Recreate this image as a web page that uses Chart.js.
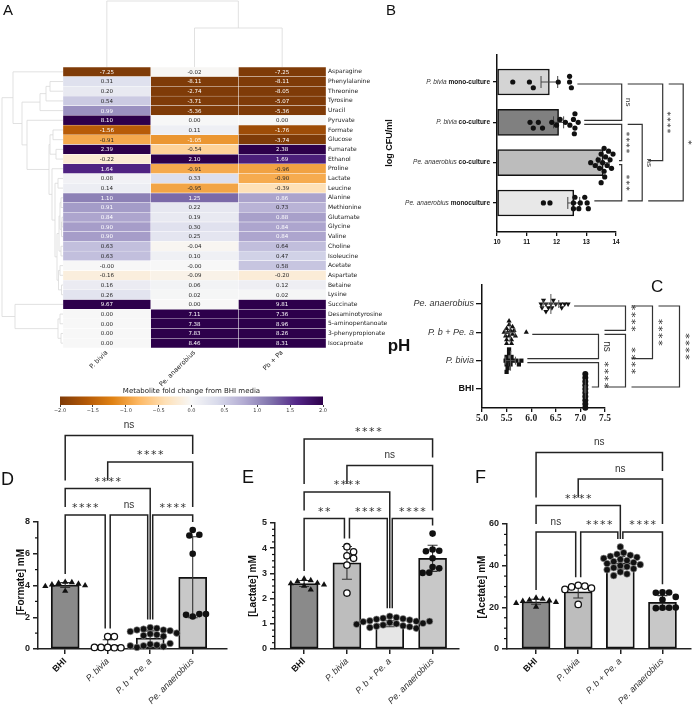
<!DOCTYPE html>
<html>
<head>
<meta charset="utf-8">
<script src="https://cdn.jsdelivr.net/npm/chart.js@4.4.1/dist/chart.umd.min.js"></script>
<style>
  body { margin: 0; background: #fff; }
  #fig { position: relative; width: 696px; height: 709px; overflow: hidden; }
  canvas { position: absolute; background: transparent; }
  .tag { position: absolute; font-family: 'Liberation Sans', Arial, sans-serif; line-height: 1; color: #111; }
</style>
</head>
<body>
<div id="fig">
  <canvas id="formate" width="232" height="304" style="left:0;top:405px"></canvas>
  <canvas id="lactate" width="232" height="304" style="left:232px;top:405px"></canvas>
  <canvas id="acetate" width="232" height="304" style="left:464px;top:405px"></canvas>
  <canvas id="cbar" width="290" height="32" style="left:50px;top:385px"></canvas>
  <canvas id="cfu" width="351" height="250" style="left:345px;top:0"></canvas>
  <canvas id="ph" width="351" height="160" style="left:345px;top:265px"></canvas>
  <canvas id="heat" width="400" height="400" style="left:0;top:0"></canvas>
  <div class="tag" style="left:3px;top:2px;font-size:15px">A</div>
  <div class="tag" style="left:386px;top:2px;font-size:15px">B</div>
  <div class="tag" style="left:651px;top:278px;font-size:17px">C</div>
  <div class="tag" style="left:1px;top:470px;font-size:18px">D</div>
  <div class="tag" style="left:242px;top:468px;font-size:18px">E</div>
  <div class="tag" style="left:475px;top:468px;font-size:18px">F</div>
</div>
<script>
// ---------- A: metabolite fold change heatmap ----------
const metabolites = ['Asparagine', 'Phenylalanine', 'Threonine', 'Tyrosine', 'Uracil', 'Pyruvate', 'Formate', 'Glucose',
  'Fumarate', 'Ethanol', 'Proline', 'Lactate', 'Leucine', 'Alanine', 'Methionine', 'Glutamate', 'Glycine', 'Valine',
  'Choline', 'Isoleucine', 'Acetate', 'Aspartate', 'Betaine', 'Lysine', 'Succinate', 'Desaminotyrosine',
  '5-aminopentanoate', '3-phenypropionate', 'Isocaproate'];
const strains = ['P. bivia', 'Pe. anaerobius', 'Pb + Pa'];
const foldBivia = [-7.25, 0.31, 0.20, 0.54, 0.99, 8.10, -1.56, -0.91, 2.39, -0.22, 1.64, 0.08, 0.14, 1.10, 0.91, 0.84,
  0.90, 0.90, 0.63, 0.63, -0.001, -0.16, 0.16, 0.26, 9.67, 0.00, 0.00, 0.00, 0.00];
const foldAnaerobius = [-0.02, -8.11, -2.74, -3.71, -5.36, 0.00, 0.11, -1.05, -0.54, 2.10, -0.91, 0.33, -0.95, 1.25, 0.22,
  0.19, 0.30, 0.25, -0.04, 0.10, -0.001, -0.09, 0.06, 0.02, 0.00, 7.11, 7.38, 7.83, 8.46];
const foldMix = [-7.25, -8.11, -8.05, -5.07, -5.36, 0.00, -1.76, -3.74, 2.38, 1.69, -0.96, -0.90, -0.39, 0.86, 0.73, 0.88,
  0.84, 0.84, 0.64, 0.47, 0.58, -0.20, 0.12, 0.02, 9.81, 7.36, 8.96, 8.26, 8.31];
const foldChange = [foldBivia, foldAnaerobius, foldMix];
// hierarchical clustering: [node a, node b, merge height]; leaves are 0..n-1, merges get n, n+1, ...
const rowLinkage = [[1, 2, 13], [29, 3, 17], [30, 4, 23], [6, 7, 10], [8, 9, 7], [32, 33, 13], [11, 12, 5], [13, 14, 2],
  [15, 16, 1], [37, 17, 1.5], [36, 38, 3], [18, 19, 2], [39, 40, 4], [20, 21, 3], [22, 23, 1.5], [42, 43, 4.5],
  [41, 44, 6], [35, 45, 8], [10, 46, 11], [34, 47, 14], [5, 48, 36], [31, 49, 41], [0, 50, 50], [25, 26, 3],
  [27, 28, 2], [52, 53, 5], [24, 54, 48], [51, 55, 61]];
const colLinkage = [[1, 2, 39], [0, 3, 66]];
const cbarRange = [-2, 2];

// ---------- B: log CFU/ml ----------
const cfuSpecies = ['P. bivia', 'P. bivia', 'Pe. anaerobius', 'Pe. anaerobius'];
const cfuCondition = [' mono-culture', ' co-culture', ' co-culture', ' monoculture'];
const cfuMean = [11.76, 12.07, 13.57, 12.58];
const cfuSd = [0.28, 0.17, 0.2, 0.2];
const cfuBiviaMono = [10.53, 11.09, 11.22, 12.06, 12.44, 12.5, 12.44];
const cfuBiviaCo = [11.11, 11.22, 11.39, 11.53, 11.84, 12.0, 12.12, 12.3, 12.45, 12.57, 12.62, 12.62, 12.73, 12.6];
const cfuAnaCo = [13.15, 13.3, 13.4, 13.45, 13.5, 13.55, 13.6, 13.62, 13.65, 13.7, 13.75, 13.8, 13.85, 13.9, 13.6, 13.5];
const cfuAnaMono = [11.56, 11.78, 12.57, 13.03, 12.57, 12.8, 13.07, 12.62, 12.75, 12.95];
const cfuStats = [[0, 1, 'ns', 0], [1, 2, '****', 0], [2, 3, '***', 0], [1, 3, 'ns', 1], [0, 2, '****', 2], [0, 3, '*', 3]];

// ---------- C: pH ----------
const phGroups = ['Pe. anaerobius', 'P. b + Pe. a', 'P. bivia', 'BHI'];
const phMean = [6.4, 5.57, 5.58, 7.1];
const phSd = [0.16, 0.1, 0.1, 0.01];
const phAnaerobius = [6.2, 6.22, 6.25, 6.3, 6.35, 6.4, 6.42, 6.45, 6.5, 6.6, 6.62, 6.68, 6.75, 6.3];
const phMix = [5.45, 5.48, 5.5, 5.5, 5.52, 5.55, 5.55, 5.58, 5.6, 5.62, 5.62, 5.65, 5.68, 5.5, 5.55, 5.6, 5.9];
const phBivia = [5.48, 5.5, 5.5, 5.52, 5.55, 5.55, 5.58, 5.6, 5.62, 5.7, 5.75, 5.8, 5.5, 5.55];
const phBHI = [7.1, 7.1, 7.1, 7.1, 7.1, 7.1, 7.1, 7.1, 7.1, 7.1];
const phStats = [[1, 2, 'ns', 0], [2, 3, '****', 0], [0, 1, '****', 1], [1, 3, '****', 1], [0, 2, '****', 2], [0, 3, '****', 3]];

// ---------- D, E, F: metabolite concentrations ----------
const concGroups = ['BHI', 'P. bivia', 'P. b + Pe. a', 'Pe. anaerobius'];
const formateMean = [4.03, 0.25, 0.69, 4.52];
const formateSd = [0.15, 0.33, 0.45, 2.55];
const formateBHI = [4.22, 4.2, 4.15, 4.1, 4.05, 4.0, 3.95, 3.65];
const formateBivia = [0.78, 0.78, 0.1, 0.08, 0.1, 0.08, 0.1];
const formateMix = [1.35, 1.3, 1.25, 1.2, 1.2, 1.15, 1.1, 1.0, 0.95, 0.9, 0.85, 0.8, 0.3, 0.25, 0.2, 0.15, 0.1, 0.35, 0.2];
const formatePeA = [7.5, 7.2, 7.15, 6.0, 2.05, 2.2, 2.15, 2.2];
const formateStats = [[0, 1, '****', 0], [1, 2, 'ns', 0], [2, 3, '****', 0], [0, 2, '****', 1], [1, 3, '****', 2], [0, 3, 'ns', 3]];

const lactateMean = [2.6, 3.42, 1.0, 3.6];
const lactateSd = [0.12, 0.65, 0.12, 0.52];
const lactateBHI = [2.78, 2.72, 2.68, 2.62, 2.6, 2.55, 2.5, 2.35];
const lactateBivia = [4.06, 3.86, 3.7, 3.6, 3.33, 2.22];
const lactateMix = [1.3, 1.25, 1.22, 1.2, 1.18, 1.15, 1.12, 1.1, 1.08, 1.05, 1.02, 1.0, 0.98, 0.95, 0.92, 0.9, 0.88, 0.85, 0.82, 1.1];
const lactatePeA = [4.58, 3.95, 3.9, 3.88, 3.6, 3.25, 3.2, 3.03, 3.02];
const lactateStats = [[0, 1, '**', 0], [1, 2, '****', 0], [2, 3, '****', 0], [0, 2, '****', 1], [1, 3, 'ns', 2], [0, 3, '****', 3]];

const acetateMean = [22.7, 27.5, 41.4, 22.4];
const acetateSd = [1.2, 3.0, 3.0, 3.2];
const acetateBHI = [24.5, 24, 23.5, 23.2, 23, 22.5, 22, 20.2];
const acetateBivia = [30.6, 30.2, 29.8, 29.2, 28.6, 21.4];
const acetateMix = [49, 46.2, 45.5, 45, 44.5, 44, 43.5, 43, 42.5, 42, 41.5, 41, 40.5, 40, 39.5, 39, 38.5, 38, 37, 36, 35.2];
const acetatePeA = [27.2, 27.1, 27, 25, 23.6, 19.8, 19.8, 19.6, 19.9];
const acetateStats = [[0, 1, 'ns', 0], [1, 2, '****', 0], [2, 3, '****', 0], [0, 2, '****', 1], [1, 3, 'ns', 2], [0, 3, 'ns', 3]];

Chart.defaults.font.family = "'Liberation Sans', Arial, sans-serif";
Chart.defaults.animation = false;
Chart.defaults.plugins.legend.display = false;
Chart.defaults.plugins.tooltip.enabled = false;

// PuOr colour map between -2 and 2
const puorStops = [[127, 59, 8], [179, 88, 6], [224, 130, 20], [253, 184, 99], [254, 224, 182], [247, 247, 247],
  [216, 218, 235], [178, 171, 210], [128, 115, 172], [84, 39, 136], [45, 0, 75]];
function puorRGB(v) {
  const t = (Math.min(Math.max(v, cbarRange[0]), cbarRange[1]) - cbarRange[0]) / (cbarRange[1] - cbarRange[0]) * 10;
  const i = Math.min(Math.floor(t), 9), f = t - i;
  return puorStops[i].map((c, k) => Math.round(c + (puorStops[i + 1][k] - c) * f));
}
const puor = v => `rgb(${puorRGB(v).join(',')})`;
// dark or white annotation depending on the cell luminance
function annotColor(v) {
  const [r, g, b] = puorRGB(v).map(c => {
    c /= 255;
    return c <= 0.03928 ? c / 12.92 : Math.pow((c + 0.055) / 1.055, 2.4);
  });
  return 0.2126 * r + 0.7152 * g + 0.0722 * b > 0.408 ? '#262626' : '#ffffff';
}

function drawTree(ctx, links, leafPos, toPoint) {
  const pos = leafPos.slice(), h = leafPos.map(() => 0);
  links.forEach(([a, b, d]) => {
    const pts = [toPoint(pos[a], h[a]), toPoint(pos[a], d), toPoint(pos[b], d), toPoint(pos[b], h[b])];
    ctx.beginPath();
    pts.forEach((p, i) => i ? ctx.lineTo(p[0], p[1]) : ctx.moveTo(p[0], p[1]));
    ctx.stroke();
    pos.push((pos[a] + pos[b]) / 2);
    h.push(d);
  });
}

const dendrograms = {
  id: 'dendrograms',
  beforeDatasetsDraw(chart) {
    const { ctx, chartArea: a, scales: { x, y } } = chart;
    ctx.save();
    ctx.strokeStyle = '#d9d9d9';
    ctx.lineWidth = 0.8;
    drawTree(ctx, rowLinkage, metabolites.map((m, i) => y.getPixelForValue(i)), (p, d) => [a.left - d, p]);
    drawTree(ctx, colLinkage, strains.map((s, i) => x.getPixelForValue(i + 0.5)), (p, d) => [p, a.top - d]);
    ctx.restore();
  }
};

const cellText = {
  id: 'cellText',
  afterDatasetsDraw(chart) {
    const ctx = chart.ctx;
    ctx.save();
    ctx.font = '5.5px "DejaVu Sans"';
    ctx.textAlign = 'center';
    ctx.textBaseline = 'middle';
    chart.data.datasets.forEach((ds, d) => {
      chart.getDatasetMeta(d).data.forEach((el, i) => {
        const v = foldChange[d][i];
        ctx.fillStyle = annotColor(v);
        ctx.fillText(v.toFixed(2), (el.x + el.base) / 2, el.y + 0.5);
      });
    });
    ctx.restore();
  }
};

new Chart(document.getElementById('heat'), {
  type: 'bar',
  data: {
    labels: metabolites,
    datasets: strains.map((s, c) => ({
      label: s,
      data: foldChange[c].map(() => [c, c + 1]),
      backgroundColor: ctx => puor(foldChange[c][ctx.dataIndex]),
      borderColor: 'rgba(255,255,255,0.6)',
      borderWidth: 0.5,
      borderSkipped: false,
      grouped: false,
      barPercentage: 1,
      categoryPercentage: 1
    }))
  },
  options: {
    indexAxis: 'y',
    responsive: false,
    layout: { padding: { left: 63, top: 67, right: 0, bottom: 2 } },
    scales: {
      x: {
        type: 'linear', min: 0, max: strains.length, offset: false,
        afterBuildTicks: s => { s.ticks = strains.map((n, i) => ({ value: i + 0.5 })); },
        ticks: { callback: (v, i) => strains[i], font: { family: 'DejaVu Sans', size: 6.5 }, color: '#222',
          minRotation: 45, maxRotation: 45, padding: 1, autoSkip: false },
        grid: { display: false, drawTicks: false }, border: { display: false },
        // keep the box tall enough: rotated labels are clipped to the axis box
        afterFit: s => { s.height = 50; }
      },
      y: {
        position: 'right',
        ticks: { font: { family: 'DejaVu Sans', size: 6 }, color: '#222', padding: 2, autoSkip: false },
        grid: { display: false, drawTicks: false }, border: { display: false },
        afterFit: s => { s.width = 74; }
      }
    }
  },
  plugins: [dendrograms, cellText]
});

// colour bar
new Chart(document.getElementById('cbar'), {
  type: 'bar',
  data: {
    labels: [''],
    datasets: [{
      data: [cbarRange],
      backgroundColor: ctx => {
        const a = ctx.chart.chartArea;
        if (!a) return '#ccc';
        const g = ctx.chart.ctx.createLinearGradient(a.left, 0, a.right, 0);
        puorStops.forEach((c, i) => g.addColorStop(i / 10, `rgb(${c.join(',')})`));
        return g;
      },
      borderWidth: 0, barPercentage: 1, categoryPercentage: 1
    }]
  },
  options: {
    indexAxis: 'y',
    responsive: false,
    layout: { padding: { left: 10, right: 17, top: 0, bottom: 0 } },
    plugins: {
      title: { display: true, text: 'Metabolite fold change from BHI media', color: '#222',
        font: { family: 'DejaVu Sans', size: 7, weight: 'normal' }, padding: { top: 2, bottom: 1 } }
    },
    scales: {
      x: {
        type: 'linear', min: cbarRange[0], max: cbarRange[1], offset: false,
        ticks: { stepSize: 0.5, font: { family: 'DejaVu Sans', size: 5 }, color: '#333', padding: 1,
          callback: v => v.toFixed(1).replace('-', '\u2212') },
        grid: { drawOnChartArea: false, tickLength: 2, color: '#444' }, border: { display: false },
        afterFit: s => { s.height = 12; }
      },
      y: { display: false }
    }
  }
});

// ---------- shared helpers ----------
// spread points that would overlap along the category axis
function swarm(values, index, valPx, catPx, dot) {
  const placed = [];
  return values.map(v => {
    let off = 0;
    for (let k = 0; k < 80; k++) {
      off = (k % 2 ? 1 : -1) * Math.ceil(k / 2) * dot * 0.55;
      if (!placed.some(p => Math.hypot((p.v - v) * valPx, p.off - off) < dot)) break;
    }
    placed.push({ v, off });
    return { v, c: index + off / catPx };
  });
}

function sigFont(txt, size) {
  return txt.includes('*') ? { font: `${size + 1}px "DejaVu Sans"`, spacing: size / 6.5, lift: 0.56 * (size + 1) }
    : { font: `${size}px "Liberation Sans"`, spacing: 0, lift: 0.27 * size };
}

// comparison brackets to the right of horizontal charts
function sideBrackets(stats, groups, means, sds, lay) {
  return {
    id: 'sideBrackets',
    afterDraw(chart) {
      const { ctx, chartArea: a, scales: { x, y } } = chart;
      const ends = groups.map((g, i) => x.getPixelForValue(Math.max(...g, means[i] + sds[i])));
      const items = stats.map(([p, q, txt, tier]) => ({ p, q, txt, tier, bx: a.right + lay.x0 + lay.step * tier }));
      const armStart = (it, g) => {
        let s = ends[g] + lay.gap;
        items.forEach(o => { if (o.tier < it.tier && g >= o.p && g <= o.q) s = Math.max(s, o.bx + lay.gap); });
        return s;
      };
      ctx.save();
      ctx.strokeStyle = '#333';
      ctx.lineWidth = 1.2;
      items.forEach(it => {
        const y1 = y.getPixelForValue(it.p) + 2, y2 = y.getPixelForValue(it.q) - 2;
        ctx.beginPath();
        ctx.moveTo(armStart(it, it.p), y1);
        ctx.lineTo(it.bx, y1);
        ctx.lineTo(it.bx, y2);
        ctx.lineTo(armStart(it, it.q), y2);
        ctx.stroke();
        const f = sigFont(it.txt, lay.size);
        ctx.save();
        ctx.translate(it.bx + lay.labelOff, (y1 + y2) / 2);
        ctx.rotate(Math.PI / 2);
        ctx.font = f.font;
        ctx.letterSpacing = f.spacing + 'px';
        ctx.fillStyle = '#333';
        ctx.textAlign = 'center';
        ctx.fillText(it.txt, f.spacing / 2, f.lift);
        ctx.restore();
      });
      ctx.restore();
    }
  };
}

// comparison brackets above vertical bar charts
function topBrackets(stats, groups, means, sds) {
  return {
    id: 'topBrackets',
    afterDraw(chart) {
      const { ctx, scales: { x, y } } = chart;
      const tops = groups.map((g, i) => y.getPixelForValue(Math.max(...g, means[i] + sds[i])));
      const base = Math.min(...tops) - 15;
      const items = stats.map(([p, q, txt, lvl]) => {
        const same = stats.filter(s => s[3] === lvl);
        let x1 = x.getPixelForValue(p), x2 = x.getPixelForValue(q);
        if (same.some(s => s[1] === p)) x1 += 2.5;
        if (same.some(s => s[0] === q)) x2 -= 2.5;
        return { p, q, txt, lvl, x1, x2, yb: base - 26.5 * lvl };
      });
      const armEnd = (it, px, g) => {
        let lim = tops[g];
        items.forEach(o => { if (o.lvl < it.lvl && px >= o.x1 - 1 && px <= o.x2 + 1) lim = Math.min(lim, o.yb); });
        return lim - 8;
      };
      ctx.save();
      ctx.strokeStyle = '#222';
      ctx.lineWidth = 1.5;
      items.forEach(it => {
        ctx.beginPath();
        ctx.moveTo(it.x1, armEnd(it, it.x1, it.p));
        ctx.lineTo(it.x1, it.yb);
        ctx.lineTo(it.x2, it.yb);
        ctx.lineTo(it.x2, armEnd(it, it.x2, it.q));
        ctx.stroke();
        const f = sigFont(it.txt, 10);
        ctx.font = f.font;
        ctx.letterSpacing = f.spacing + 'px';
        ctx.fillStyle = '#333';
        ctx.textAlign = 'center';
        ctx.fillText(it.txt, (it.x1 + it.x2) / 2 + f.spacing / 2, it.yb - 10 + f.lift);
      });
      ctx.restore();
    }
  };
}

function rotatedTitle(ctx, text, font, cx, cy) {
  ctx.save();
  ctx.translate(cx, cy);
  ctx.rotate(-Math.PI / 2);
  ctx.font = font;
  ctx.fillStyle = '#111';
  ctx.textAlign = 'center';
  ctx.textBaseline = 'middle';
  ctx.fillText(text, 0, 0);
  ctx.restore();
}

const axisLine = { color: '#111', width: 1.5 };
const tickMarks = { drawOnChartArea: false, offset: false, tickLength: 4, color: '#111', lineWidth: 1.3 };

// ---------- B chart ----------
const cfuPoints = [cfuBiviaMono, cfuBiviaCo, cfuAnaCo, cfuAnaMono];
const cfuBarColors = ['#d4d4d4', '#808080', '#bcbcbc', '#e8e8e8'];

const cfuExtras = {
  id: 'cfuExtras',
  afterDatasetDraw(chart, args) {
    if (args.index !== 0) return;
    const { ctx, scales: { x, y } } = chart;
    ctx.save();
    ctx.strokeStyle = '#444';
    ctx.lineWidth = 1;
    cfuMean.forEach((m, i) => {
      const py = y.getPixelForValue(i), l = x.getPixelForValue(m - cfuSd[i]), r = x.getPixelForValue(m + cfuSd[i]);
      ctx.beginPath();
      ctx.moveTo(l, py); ctx.lineTo(r, py);
      ctx.moveTo(l, py - 6); ctx.lineTo(l, py + 6);
      ctx.moveTo(r, py - 6); ctx.lineTo(r, py + 6);
      ctx.stroke();
    });
    ctx.restore();
  },
  afterDraw(chart) {
    const { ctx, chartArea: a, scales: { y } } = chart;
    ctx.save();
    ctx.textBaseline = 'middle';
    cfuSpecies.forEach((sp, i) => {
      const py = y.getPixelForValue(i);
      ctx.font = 'bold 6.5px "Liberation Sans"';
      ctx.fillStyle = '#111';
      const w = ctx.measureText(cfuCondition[i]).width;
      ctx.textAlign = 'right';
      ctx.fillText(cfuCondition[i], a.left - 7, py);
      ctx.font = 'italic 6.5px "Liberation Sans"';
      ctx.fillStyle = '#333';
      ctx.fillText(sp, a.left - 7 - w, py);
    });
    ctx.restore();
    rotatedTitle(ctx, 'log CFU/ml', 'bold 9px "Liberation Sans"', 45, 143);
  }
};

new Chart(document.getElementById('cfu'), {
  type: 'bar',
  data: {
    datasets: [{
      type: 'bar', indexAxis: 'y', order: 1,
      data: cfuMean.map((m, i) => ({ x: m, y: i })),
      base: 10, barThickness: 26,
      backgroundColor: cfuBarColors, borderColor: '#111', borderWidth: 1.5, borderSkipped: false
    }].concat(cfuPoints.map((g, i) => ({
      type: 'scatter', order: 0, clip: false,
      data: swarm(g, i, 29.75, 40.33, 5.2).map(p => ({ x: p.v, y: p.c })),
      pointRadius: 2.6, backgroundColor: '#111', borderColor: '#111', borderWidth: 0
    })))
  },
  options: {
    responsive: false,
    layout: { padding: { left: 146, right: 80, top: 55, bottom: 0 } },
    scales: {
      x: {
        type: 'linear', min: 10, max: 14, offset: false,
        ticks: { stepSize: 1, font: { size: 6.5, weight: 'bold' }, color: '#111', padding: 2 },
        grid: tickMarks, border: axisLine,
        afterFit: s => { s.height = 18; }
      },
      y: {
        type: 'linear', reverse: true, min: -0.67, max: 3.72, offset: false,
        afterBuildTicks: s => { s.ticks = cfuSpecies.map((n, i) => ({ value: i })); },
        ticks: { display: false },
        grid: tickMarks, border: axisLine,
        afterFit: s => { s.width = 6; }
      }
    }
  },
  plugins: [cfuExtras, sideBrackets(cfuStats, cfuPoints, cfuMean, cfuSd,
    { x0: 5.7, step: 20.5, gap: 6, size: 8, labelOff: 6.5 })]
});

// ---------- C chart ----------
const phPoints = [phAnaerobius, phMix, phBivia, phBHI];
const phMarkers = [
  { pointStyle: 'triangle', rotation: 180 },
  { pointStyle: 'triangle', rotation: 0 },
  { pointStyle: 'rect', rotation: 0 },
  { pointStyle: 'circle', rotation: 0 }
];

const phExtras = {
  id: 'phExtras',
  afterDraw(chart) {
    const { ctx, scales: { x, y } } = chart;
    ctx.save();
    ctx.strokeStyle = '#555';
    ctx.lineWidth = 1;
    phMean.forEach((m, i) => {
      const py = y.getPixelForValue(i), px = x.getPixelForValue(m);
      const l = x.getPixelForValue(m - phSd[i]), r = x.getPixelForValue(m + phSd[i]);
      ctx.beginPath();
      ctx.moveTo(px, py - 10); ctx.lineTo(px, py + 10);
      ctx.moveTo(l, py); ctx.lineTo(r, py);
      ctx.moveTo(l, py - 4); ctx.lineTo(l, py + 4);
      ctx.moveTo(r, py - 4); ctx.lineTo(r, py + 4);
      ctx.stroke();
    });
    ctx.restore();
    ctx.save();
    ctx.font = 'bold 17px "Liberation Sans"';
    ctx.fillStyle = '#111';
    ctx.textAlign = 'center';
    ctx.textBaseline = 'middle';
    ctx.fillText('pH', 54, 81);
    ctx.restore();
  }
};

new Chart(document.getElementById('ph'), {
  type: 'scatter',
  data: {
    datasets: phPoints.map((g, i) => ({
      clip: false,
      data: swarm(g, i, 49.2, 28.33, 3.4).map(p => ({ x: p.v, y: p.c })),
      pointStyle: phMarkers[i].pointStyle, rotation: phMarkers[i].rotation,
      pointRadius: 3, backgroundColor: '#111', borderColor: '#111', borderWidth: 0
    }))
  },
  options: {
    responsive: false,
    layout: { padding: { left: 67, right: 91, top: 20, bottom: 0 } },
    scales: {
      x: {
        type: 'linear', min: 5, max: 7.5, offset: false,
        ticks: { stepSize: 0.5, font: { family: "'Liberation Serif', serif", size: 9.5, weight: 'bold' }, color: '#222',
          padding: 1, callback: v => v.toFixed(1) },
        grid: tickMarks, border: axisLine,
        afterFit: s => { s.height = 17; }
      },
      y: {
        type: 'linear', reverse: true, min: -0.67, max: 3.67, offset: false,
        afterBuildTicks: s => { s.ticks = phGroups.map((n, i) => ({ value: i })); },
        ticks: {
          callback: (v, i) => phGroups[i], padding: 2,
          font: c => phGroups[c.index] === 'BHI' ? { size: 9, weight: 'bold' } : { size: 9, style: 'italic' },
          color: c => phGroups[c.index] === 'BHI' ? '#111' : '#333'
        },
        grid: { drawOnChartArea: false, offset: false, tickLength: 6, color: '#111', lineWidth: 1.3 }, border: axisLine,
        afterFit: s => { s.width = 70; }
      }
    }
  },
  plugins: [phExtras, sideBrackets(phStats, phPoints, phMean, phSd,
    { x0: -6.5, step: 27, gap: 6, size: 10, labelOff: 8.5 })]
});

// ---------- D, E, F charts ----------
const concBarColors = ['#8a8a8a', '#bdbdbd', '#e6e6e6', '#c8c8c8'];
const concMarkers = [
  { pointStyle: 'triangle', radius: 3.6, fill: '#111', edge: '#111', width: 0 },
  { pointStyle: 'circle', radius: 3.2, fill: '#ffffff', edge: '#111', width: 1.3 },
  { pointStyle: 'circle', radius: 3.3, fill: '#111', edge: '#999', width: 0.6 },
  { pointStyle: 'circle', radius: 3.3, fill: '#111', edge: '#111', width: 0 }
];

function concChart(id, cfg) {
  const extras = {
    id: 'concExtras',
    afterDatasetDraw(chart, args) {
      if (args.index !== 0) return;
      const { ctx, scales: { x, y } } = chart;
      ctx.save();
      ctx.strokeStyle = '#333';
      ctx.lineWidth = 1.1;
      cfg.means.forEach((m, i) => {
        const px = x.getPixelForValue(i), lo = y.getPixelForValue(Math.max(m - cfg.sds[i], 0)), hi = y.getPixelForValue(m + cfg.sds[i]);
        ctx.beginPath();
        ctx.moveTo(px, lo); ctx.lineTo(px, hi);
        ctx.moveTo(px - 5, hi); ctx.lineTo(px + 5, hi);
        ctx.moveTo(px - 5, lo); ctx.lineTo(px + 5, lo);
        ctx.stroke();
      });
      ctx.restore();
    },
    afterDraw(chart) {
      const { ctx, chartArea: a, scales: { y } } = chart;
      ctx.save();
      ctx.strokeStyle = '#111';
      ctx.lineWidth = 1.2;
      for (let v = 0; v <= y.max + 1e-9; v += cfg.minor) {
        if (Math.abs(v / cfg.step - Math.round(v / cfg.step)) < 1e-6) continue;
        const py = y.getPixelForValue(v);
        ctx.beginPath(); ctx.moveTo(a.left - 3, py); ctx.lineTo(a.left, py); ctx.stroke();
      }
      ctx.restore();
      rotatedTitle(ctx, cfg.title, 'bold 10px "Liberation Sans"', cfg.titleX, cfg.titleY);
    }
  };
  new Chart(document.getElementById(id), {
    type: 'bar',
    data: {
      datasets: [{
        type: 'bar', order: 1,
        data: cfg.means.map((m, i) => ({ x: i, y: m })),
        barThickness: 28,
        backgroundColor: concBarColors, borderColor: '#111', borderWidth: 1.8, borderSkipped: false
      }].concat(cfg.points.map((g, i) => ({
        type: 'scatter', order: 0, clip: false,
        data: swarm(g, i, cfg.valPx, cfg.catPx, 6.2).map(p => ({ x: p.c, y: p.v })),
        pointStyle: concMarkers[i].pointStyle, pointRadius: concMarkers[i].radius,
        backgroundColor: concMarkers[i].fill, borderColor: concMarkers[i].edge, borderWidth: concMarkers[i].width
      })))
    },
    options: {
      responsive: false,
      layout: { padding: { left: 0, right: 0, top: cfg.top, bottom: 0 } },
      scales: {
        x: {
          type: 'linear', min: cfg.xMin, max: cfg.xMax, offset: false,
          afterBuildTicks: s => { s.ticks = concGroups.map((n, i) => ({ value: i })); },
          ticks: {
            callback: (v, i) => concGroups[i], autoSkip: false, minRotation: 45, maxRotation: 45, padding: 2,
            font: c => concGroups[c.index] === 'BHI' ? { size: 9, weight: 'bold' } : { size: 9, style: 'italic' },
            color: c => concGroups[c.index] === 'BHI' ? '#111' : '#333'
          },
          grid: { drawOnChartArea: false, offset: false, tickLength: 5, color: '#222', lineWidth: 1.5 },
          border: { color: '#222', width: 1.5 },
          afterFit: s => { s.height = 60; }
        },
        y: {
          type: 'linear', min: 0, max: cfg.max, offset: false,
          ticks: { stepSize: cfg.step, font: { size: 9, weight: 'bold' }, color: '#222', padding: 3 },
          grid: { drawOnChartArea: false, offset: false, tickLength: 5, color: '#222', lineWidth: 1.5 },
          border: { color: '#222', width: 1.5 },
          afterFit: s => { s.width = cfg.left; }
        }
      }
    },
    plugins: [extras, topBrackets(cfg.stats, cfg.points, cfg.means, cfg.sds)]
  });
}

concChart('formate', {
  means: formateMean, sds: formateSd, points: [formateBHI, formateBivia, formateMix, formatePeA], stats: formateStats,
  max: 8, step: 2, minor: 1, xMin: -0.64, xMax: 3.8, left: 38, top: 117, valPx: 15.9, catPx: 43.7,
  title: '[Formate] mM', titleX: 21, titleY: 177
});
concChart('lactate', {
  means: lactateMean, sds: lactateSd, points: [lactateBHI, lactateBivia, lactateMix, lactatePeA], stats: lactateStats,
  max: 5, step: 1, minor: 0.25, xMin: -0.68, xMax: 3.61, left: 43, top: 118, valPx: 25.2, catPx: 44,
  title: '[Lactate] mM', titleX: 21, titleY: 181
});
concChart('acetate', {
  means: acetateMean, sds: acetateSd, points: [acetateBHI, acetateBivia, acetateMix, acetatePeA], stats: acetateStats,
  max: 60, step: 20, minor: 5, xMin: -0.69, xMax: 3.67, left: 43, top: 119, valPx: 2.083, catPx: 43.3,
  title: '[Acetate] mM', titleX: 18, titleY: 182
});
</script>
</body>
</html>
